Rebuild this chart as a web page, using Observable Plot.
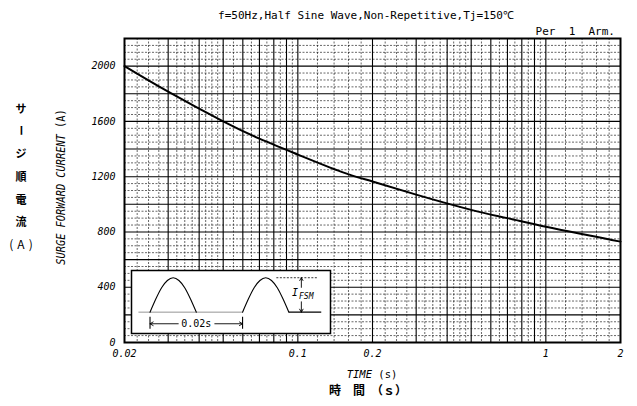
<!DOCTYPE html>
<html><head><meta charset="utf-8">
<script src="https://cdn.jsdelivr.net/npm/d3@7"></script>
<script src="https://cdn.jsdelivr.net/npm/@observablehq/plot@0.6"></script>
<style>
body{margin:0;background:#fff;}
#wrap{position:relative;width:637px;height:406px;overflow:hidden;background:#fff;}
.t{position:absolute;white-space:pre;line-height:1;color:#000;}
.mono{font-family:"DejaVu Sans Mono",monospace;}
.jp{font-family:"Noto Sans CJK JP",sans-serif;font-weight:700;}
.c{transform:translate(-50%,-50%);}
</style></head><body>
<div id="wrap">
  <div class="t mono c" style="left:366px;top:15px;font-size:11px;">f=50Hz,Half Sine Wave,Non-Repetitive,Tj=150℃</div>
  <div class="t mono" style="right:22px;top:26px;font-size:11px;">Per  1  Arm.</div>
  <div class="t mono c" style="left:61px;top:187px;font-size:12px;transform:translate(-50%,-50%) rotate(-90deg) scaleX(0.86);"><i>SURGE FORWARD CURRENT</i> (A)</div>
  <div class="t mono c" style="left:372px;top:374px;font-size:10.5px;"><i>TIME</i> (s)</div>
  <div class="t jp c" style="left:368px;top:390px;font-size:12px;">時　間　（ｓ）</div>
</div>
<script>
// ---- main chart data ----
const timeS    = [0.02, 0.03, 0.05, 0.07, 0.1, 0.15, 0.2, 0.3, 0.5, 0.7, 1, 1.5, 2];
const currentA = [2000, 1815, 1600, 1475, 1360, 1235, 1165, 1070, 960, 900, 837, 775, 730];
const xTickValues = [0.02, 0.05, 0.1, 0.2, 0.5, 1, 2];
const xTickLabels = ["0.02", "0.05", "0.1", "0.2", "0.5", "1", "2"];
const yTickValues = [0, 400, 800, 1200, 1600, 2000];
const yTickLabels = ["0", "400", "800", "1200", "1600", "2000"];
const yLabelChars = ["サ", "ー", "ジ", "順", "電", "流", "(A)"];

// ---- inset schematic (time in ms, level normalised to I_FSM = 1) ----
const wavePhaseMs = [0, 1.25, 2.5, 3.75, 5, 6.25, 7.5, 8.75, 10];
const waveLevel   = [0, 0.38, 0.71, 0.92, 1, 0.92, 0.71, 0.38, 0];
const pulseStartsMs = [0, 20];

const wrap = document.getElementById("wrap");

// y-label katakana column
const kanaY = [108, 131, 153, 176, 199, 221, 244];
yLabelChars.forEach((ch, i) => {
  const d = document.createElement("div");
  d.className = "t jp c";
  d.style.left = "21px";
  d.style.top = kanaY[i] + "px";
  d.style.fontSize = "11px";
  if (ch === "ー") d.style.writingMode = "vertical-rl";
  if (ch === "(A)") {
    d.style.fontWeight = "400";
    d.style.fontSize = "12px";
    d.style.letterSpacing = "4px";
    d.style.left = "23px";
  }
  d.textContent = ch;
  wrap.appendChild(d);
});

const curveData = timeS.map((t, i) => ({t, i: currentA[i]}));

const yMajor = d3.range(0, 2201, 200);
const yMinor = d3.range(50, 2200, 50).filter(v => v % 200 !== 0);
const xMajor = [], xMinor = [];
for (const dec of [0.01, 0.1, 1]) {
  for (let m = 1; m <= 9; m++) {
    const v = +(m * dec).toPrecision(4);
    if (v > 0.02 && v < 2) xMajor.push(v);
  }
  const steps = [[1, 2, 0.2], [2, 5, 0.25], [5, 10, 0.5]];
  for (const [a, b, s] of steps) {
    for (let m = a + s; m < b - 1e-9; m += s) {
      if (Math.abs(m - Math.round(m)) < 1e-9) continue;
      const v = +(m * dec).toPrecision(4);
      if (v > 0.02 && v < 2) xMinor.push(v);
    }
  }
}

const main = Plot.plot({
  width: 637, height: 406,
  marginTop: 38, marginRight: 17, marginBottom: 64, marginLeft: 124,
  x: {type: "log", domain: [0.02, 2]},
  y: {domain: [0, 2200]},
  style: {fontFamily: "DejaVu Sans Mono", fontSize: "10px", fontStyle: "italic", color: "#000", background: "transparent"},
  marks: [
    Plot.ruleY(yMinor, {stroke: "#000", strokeWidth: 0.6, strokeDasharray: "2,1.5"}),
    Plot.ruleX(xMinor, {stroke: "#000", strokeWidth: 0.6, strokeDasharray: "2,1.5"}),
    Plot.ruleY(yMajor, {stroke: "#000", strokeWidth: 1.1}),
    Plot.ruleX(xMajor, {stroke: "#000", strokeWidth: 1.1}),
    Plot.frame({stroke: "#000", strokeWidth: 2}),
    Plot.line(curveData, {x: "t", y: "i", curve: "natural", stroke: "#000", strokeWidth: 2}),
    Plot.axisX(xTickValues, {tickSize: 0, tickPadding: 7, label: null,
      tickFormat: d => xTickLabels[xTickValues.indexOf(d)]}),
    Plot.axisY(yTickValues, {tickSize: 0, tickPadding: 9, label: null,
      tickFormat: d => yTickLabels[yTickValues.indexOf(d)]})
  ]
});
main.style.position = "absolute";
main.style.left = "0px";
main.style.top = "0px";
wrap.appendChild(main);

// inset
const waveData = pulseStartsMs.flatMap((s, k) =>
  wavePhaseMs.map((p, j) => ({t: s + p, v: waveLevel[j], k})));
const segs = [
  {x1: -2.5, x2: 20, y1: 0, y2: 0, c: "#777", w: 0.8},
  {x1: 30, x2: 37, y1: 0, y2: 0, c: "#000", w: 1.2}
];
const arrows = [
  {x1: 32.7, y1: 0.72, x2: 32.7, y2: 1.0},
  {x1: 32.7, y1: 0.30, x2: 32.7, y2: 0},
  {x1: 6.1, y1: -0.337, x2: 0, y2: -0.337},
  {x1: 14, y1: -0.337, x2: 20, y2: -0.337}
];
const inset = Plot.plot({
  width: 199, height: 63, margin: 0,
  x: {domain: [-4, 39], axis: null},
  y: {domain: [-0.62, 1.21], axis: null},
  style: {fontFamily: "DejaVu Sans Mono", color: "#000", background: "transparent", overflow: "visible"},
  marks: [
    Plot.frame({fill: "white", stroke: "#000", strokeWidth: 1.5}),
    Plot.link(segs, {x1: "x1", x2: "x2", y1: "y1", y2: "y2", stroke: d => d.c, strokeWidth: d => d.w}),
    Plot.line(waveData, {x: "t", y: "v", z: "k", curve: "natural", stroke: "#000", strokeWidth: 1.1}),
    Plot.link([{a: 27.3, b: 36.2}], {x1: "a", x2: "b", y1: () => 1, y2: () => 1, stroke: "#000", strokeWidth: 0.8, strokeDasharray: "2,1.5"}),
    Plot.ruleX(pulseStartsMs, {y1: -0.145, y2: -0.494, stroke: "#000", strokeWidth: 1.1}),
    Plot.arrow(arrows, {x1: "x1", y1: "y1", x2: "x2", y2: "y2", stroke: "#000", strokeWidth: 0.9, headLength: 6, headAngle: 60}),
    Plot.text([{x: 10, y: -0.337, s: "0.02s"}], {x: "x", y: "y", text: "s", fontSize: 10}),
    Plot.text([{x: 30.7, y: 0.57, s: "I"}], {x: "x", y: "y", text: "s", fontSize: 10, fontStyle: "italic", textAnchor: "start"}),
    Plot.text([{x: 32.2, y: 0.45, s: "FSM"}], {x: "x", y: "y", text: "s", fontSize: 8, fontStyle: "italic", textAnchor: "start"})
  ]
});
inset.style.position = "absolute";
inset.style.left = "131px";
inset.style.top = "270px";
wrap.appendChild(inset);
</script>
</body></html>
